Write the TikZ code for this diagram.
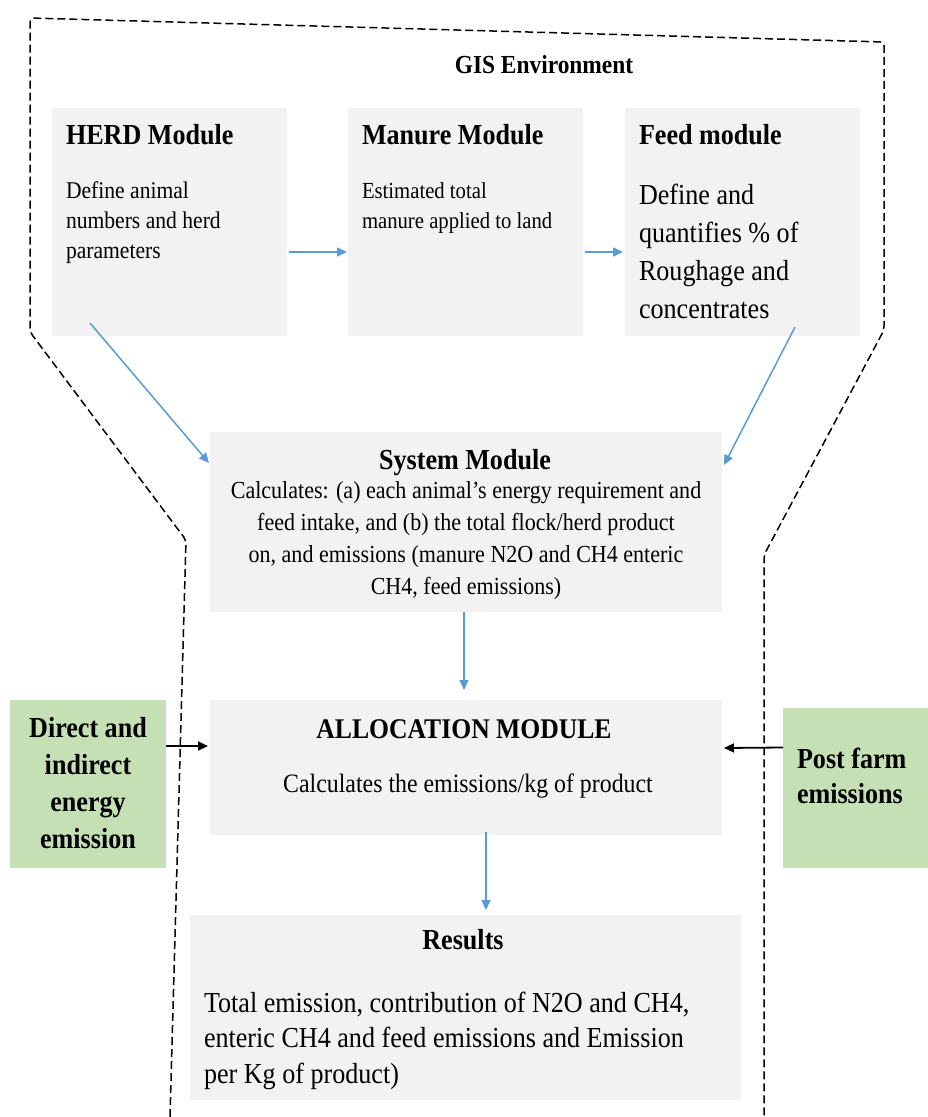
\documentclass[tikz,border=0pt]{standalone}
\usepackage{fontspec}
\setmainfont[FakeStretch=0.9]{Liberation Serif}
\usetikzlibrary{arrows.meta}
\definecolor{boxgray}{HTML}{F2F2F2}
\definecolor{boxgreen}{HTML}{C5E0B4}
\definecolor{arrowblue}{HTML}{5B9BD5}
\begin{document}
\begin{tikzpicture}[x=1pt,y=-1pt,
  graybox/.style={fill=boxgray, draw=none, inner sep=0pt, outer sep=0pt, anchor=north west},
  greenbox/.style={fill=boxgreen, draw=none, inner sep=0pt, outer sep=0pt, anchor=north west},
  txt/.style={inner sep=0pt, outer sep=0pt},
  bluearr/.style={draw=arrowblue, line width=1.5pt, -{Triangle[length=10pt,width=9pt]}},
  blackarr/.style={draw=black, line width=1.8pt, -{Triangle[length=10pt,width=9pt]}},
  envline/.style={draw=black, line width=1.5pt, dash pattern=on 8pt off 4pt, rounded corners=4pt}]
\useasboundingbox (0,0) rectangle (928,1117);

% environment outline
\draw[envline] (170,1117) -- (186,540) -- (30,332) -- (30,18) -- (884,42) -- (884,330) -- (764,555) -- (764,1117);

% boxes
\node[graybox, minimum width=235pt, minimum height=228pt] (herd) at (52,108) {};
\node[graybox, minimum width=235pt, minimum height=228pt] (manure) at (348,108) {};
\node[graybox, minimum width=235pt, minimum height=228pt] (feed) at (625,108) {};
\node[graybox, minimum width=512pt, minimum height=180pt] (system) at (210,432) {};
\node[graybox, minimum width=512pt, minimum height=135pt] (alloc) at (210,700) {};
\node[graybox, minimum width=551pt, minimum height=185pt] (results) at (190,915) {};
\node[greenbox, minimum width=156pt, minimum height=168pt] (direct) at (10,700) {};
\node[greenbox, minimum width=145pt, minimum height=160pt] (post) at (783,708) {};

% texts (multi-line nodes: base anchor = baseline of last line)
\node[txt, anchor=base, font=\fontsize{26}{30}\selectfont\bfseries] (gis) at (544,73) {GIS Environment};

\node[txt, anchor=base west, font=\fontsize{29}{35}\selectfont\bfseries] (herdT) at (66,144) {HERD Module};
\node[txt, anchor=base west, align=left, font=\fontsize{24}{30}\selectfont] (herdB) at (66,258) {Define animal\\numbers and herd\\parameters};

\node[txt, anchor=base west, font=\fontsize{29}{35}\selectfont\bfseries] (manureT) at (362,144) {Manure Module};
\node[txt, anchor=base west, align=left, font=\fontsize{23}{30}\selectfont] (manureB) at (362,228) {Estimated total\\manure applied to land};

\node[txt, anchor=base west, font=\fontsize{29}{35}\selectfont\bfseries] (feedT) at (639,144) {Feed module};
\node[txt, anchor=base west, align=left, font=\fontsize{29}{38}\selectfont] (feedB) at (639,318) {Define and\\quantifies \% of\\Roughage and\\concentrates};

\node[txt, anchor=base, font=\fontsize{29}{35}\selectfont\bfseries] (systemT) at (465,469) {System Module};
\node[txt, anchor=base, align=center, font=\fontsize{24.5}{32}\selectfont] (systemB) at (466,594) {Calculates: (a) each animal's energy requirement and\\feed intake, and (b) the total flock/herd product\\on, and emissions (manure N2O and CH4 enteric\\CH4, feed emissions)};

\node[txt, anchor=base, font=\fontsize{28.5}{35}\selectfont\bfseries] (allocT) at (464,738) {ALLOCATION MODULE};
\node[txt, anchor=base, font=\fontsize{26.5}{32}\selectfont] (allocB) at (468,792) {Calculates the emissions/kg of product};

\node[txt, anchor=base, font=\fontsize{29}{35}\selectfont\bfseries] (resultsT) at (463,949) {Results};
\node[txt, anchor=base west, align=left, font=\fontsize{29}{35.5}\selectfont] (resultsB) at (204,1083) {Total emission, contribution of N2O and CH4,\\enteric CH4 and feed emissions and Emission\\per Kg of product)};

\node[txt, anchor=base, align=center, font=\fontsize{29}{37}\selectfont\bfseries] (directT) at (88,848) {Direct and\\indirect\\energy\\emission};
\node[txt, anchor=base west, align=left, font=\fontsize{29}{35}\selectfont\bfseries] (postT) at (797,803) {Post farm\\emissions};

% connectors
\draw[bluearr] ([shift={(2,30)}]herd.east) -- ([shift={(-1,30)}]manure.west);
\draw[bluearr] ([shift={(2,30)}]manure.east) -- ([shift={(-2,30)}]feed.west);
\draw[bluearr] ([shift={(38,-13)}]herd.south west) -- ([shift={(-1,31)}]system.north west);
\draw[bluearr] ([shift={(170,-9)}]feed.south west) -- ([shift={(2,33)}]system.north east);
\draw[bluearr] ([shift={(-2,0)}]system.south) -- ([shift={(-2,-10)}]alloc.north);
\draw[bluearr] ([shift={(20,-3)}]alloc.south) -- ([shift={(20.5,-5)}]results.north);
\draw[blackarr] ([shift={(0,-38)}]direct.east) -- ([shift={(-2,-21.5)}]alloc.west);
\draw[blackarr] ([shift={(0,-40.5)}]post.west) -- ([shift={(2,-19.5)}]alloc.east);
\end{tikzpicture}
\end{document}
